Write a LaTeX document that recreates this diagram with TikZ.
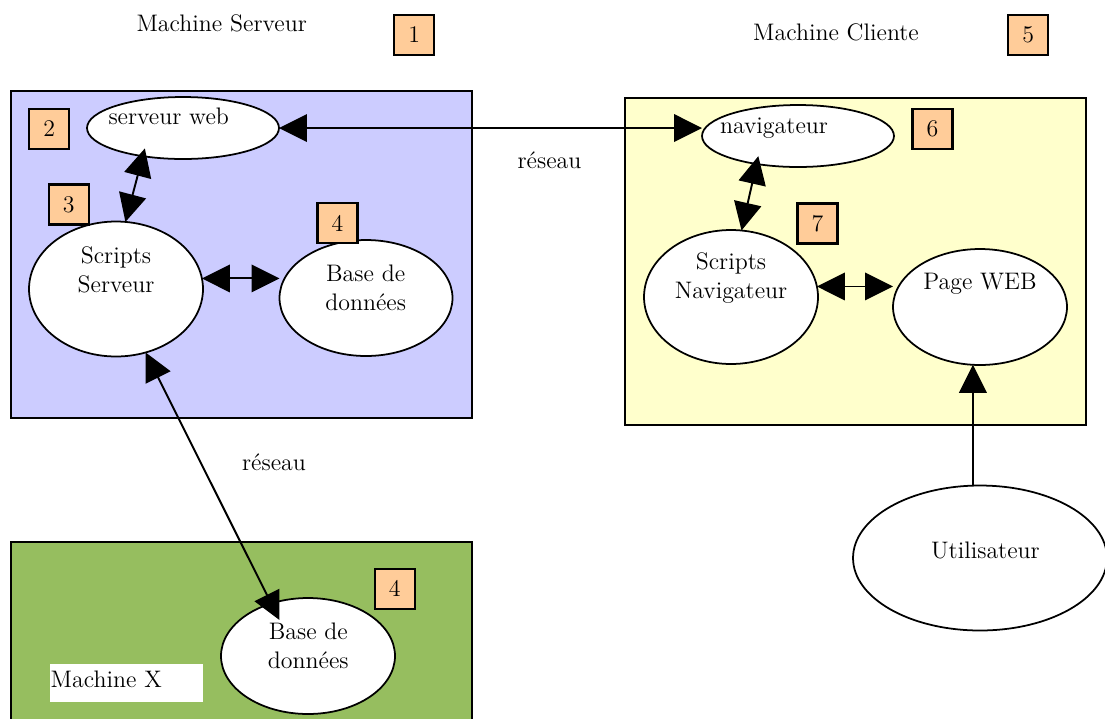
\documentclass[tikz,border=0pt]{standalone}
\usetikzlibrary{shapes.geometric,arrows.meta}
\definecolor{serverblue}{RGB}{204,204,255}
\definecolor{clientyellow}{RGB}{255,255,204}
\definecolor{machinegreen}{RGB}{150,190,95}
\definecolor{numorange}{RGB}{255,204,153}

\begin{document}
\begin{tikzpicture}[x=0.02cm,y=-0.02cm]
    \tikzstyle{machine}=[draw=black,line width=1.1pt]
    \tikzstyle{blob}=[ellipse,draw=black,fill=white,line width=1pt,inner sep=0pt,outer sep=0pt]
    \tikzstyle{numbox}=[rectangle,draw=black,fill=numorange,line width=1.3pt,minimum size=0.8cm,inner sep=0pt,font=\fontsize{13.6}{16}\selectfont]
    \tikzstyle{txt}=[inner sep=0pt,font=\fontsize{13.6}{16.5}\selectfont,align=center]
    \tikzstyle{link}=[draw=black,line width=1.1pt,{Triangle[length=0.56cm,width=0.55cm]}-{Triangle[length=0.56cm,width=0.55cm]}]
    \clip (0,0) rectangle (1105,718);

    % the three machines
    \draw[machine,fill=serverblue] (10.7,90.7) rectangle (471.7,418);
    \draw[machine,fill=clientyellow] (625,98) rectangle (1086,425);
    \draw[machine,fill=machinegreen] (10.7,542.3) rectangle (471.7,760);

    \foreach \name/\x/\y/\w/\h in {sweb/183/128/3.84/1.24, sserv/116/289/3.48/2.7, base/366/298/3.46/2.32,
                                   nav/798/136/3.84/1.24, snav/731/297/3.48/2.68, page/980/307/3.48/2.32,
                                   user/980/558/5.08/2.9, basex/308/656/3.48/2.32}
        \node[blob,minimum width=\w cm,minimum height=\h cm] (\name) at (\x,\y) {};

    \node[txt,anchor=base] (sweb-t) at (168.7,124) {serveur web};
    \node[txt] (sserv-t) at (116,269.5) {Scripts\\Serveur};
    \node[txt] (base-t) at (365.7,287.7) {Base de\\données};
    \node[txt,anchor=base] (nav-t) at (774,133) {navigateur};
    \node[txt] (snav-t) at (731,278) {Scripts\\Navigateur};
    \node[txt,anchor=base] (page-t) at (980,289) {Page WEB};
    \node[txt,anchor=base] (user-t) at (985.5,558.3) {Utilisateur};
    \node[txt] (basex-t) at (308.3,646) {Base de\\données};
    \node[txt,anchor=base] (serv-t) at (221.7,31.7) {Machine Serveur};
    \node[txt,anchor=base] (cli-t) at (836,40) {Machine Cliente};
    \node[txt,anchor=base] (net-a) at (549.5,168) {réseau};
    \node[txt,anchor=base] (net-b) at (274,470) {réseau};
    \node[fill=white,anchor=north west,inner xsep=0.02cm,inner ysep=0pt,text width=3.03cm,
          minimum height=0.77cm,text height=9pt,text depth=4pt,align=left,
          font=\fontsize{13.6}{16}\selectfont] (machx) at (49.3,663.3) {Machine X};

    \foreach \name/\num/\x/\y in {n1/1/414.3/35, n2/2/49.2/129, n3/3/68.7/204.5, n4/4/337.5/223.3,
                                  n5/5/1028.3/35, n6/6/932.5/128.7, n7/7/817.5/223.5, n8/4/394.7/588.7}
        \node[numbox] (\name) at (\x,\y) {\num};

    % connections
    \draw[link] (sweb.east) -- (sweb.east -| nav.west);
    \draw[link,shorten <=-0.16cm] (sweb.215) -- (sserv.82);
    \draw[link] (sserv.7) -- (sserv.7 -| base.west);
    \draw[link,shorten <=-0.16cm] (nav.214) -- (snav.81);
    \draw[link] (snav.7) -- (snav.7 -| page.west);
    \draw[link,shorten >=-0.37cm] (sserv.295) -- (basex.125);
    \draw[draw=black,line width=1.1pt,-{Triangle[length=0.56cm,width=0.55cm]}] (page.263 |- user.north) -- (page.263);
\end{tikzpicture}
\end{document}
